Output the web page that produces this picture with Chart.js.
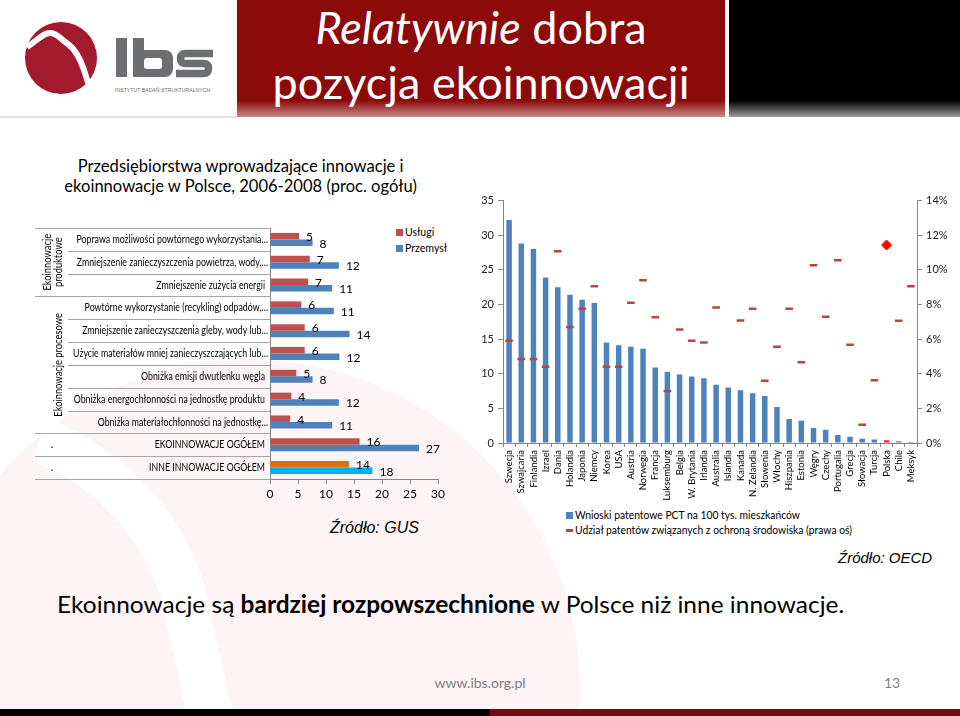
<!DOCTYPE html>
<html><head><meta charset="utf-8">
<script src="https://cdn.jsdelivr.net/npm/chart.js@4.4.0/dist/chart.umd.min.js"></script>
<style>
body{margin:0;width:960px;height:716px;position:relative;overflow:hidden;background:#fff;font-family:Lato,"Open Sans",sans-serif;color:#000;}
.abs{position:absolute;white-space:nowrap;}
.cond{display:inline-block;transform-origin:left center;}
canvas{position:absolute;}
</style></head><body>

<script>
// ---------- DATA ----------
const ecoCategories = [
  'Poprawa możliwości powtórnego wykorzystania…',
  'Zmniejszenie zanieczyszczenia powietrza, wody,…',
  'Zmniejszenie zużycia energii',
  'Powtórne wykorzystanie (recykling) odpadów,…',
  'Zmniejszenie zanieczyszczenia gleby, wody lub…',
  'Użycie materiałów mniej zanieczyszczających lub…',
  'Obniżka emisji dwutlenku węgla',
  'Obniżka energochłonności na jednostkę produktu',
  'Obniżka materiałochłonności na jednostkę…',
  'EKOINNOWACJE OGÓŁEM',
  'INNE INNOWACJE OGÓŁEM'
];
const ecoGroups = ['Ekoinnowacje produktowe', 'Ekoinnowacje procesowe', '.', '.'];
const ecoGroupSizes = [3, 6, 1, 1];
const uslugi   = [5.2, 7.1, 6.8, 5.6, 6.2, 6.2, 4.7, 3.8, 3.6, 16.0, 14.1];
const przemysl = [7.6, 12.3, 11.1, 11.4, 14.2, 12.4, 7.6, 12.3, 11.1, 26.6, 18.3];
const ecoSeriesNames = ['Usługi', 'Przemysł'];
const ecoTicks = [0, 5, 10, 15, 20, 25, 30];

const countries = ['Szwecja','Szwajcaria','Finlandia','Izrael','Dania','Holandia','Japonia','Niemcy','Korea','USA','Austria','Norwegia','Francja','Luksemburg','Belgia','W. Brytania','Irlandia','Australia','Islandia','Kanada','N. Zelandia','Słowenia','Włochy','Hiszpania','Estonia','Węgry','Czechy','Portugalia','Grecja','Słowacja','Turcja','Polska','Chile','Meksyk'];
const pctApplications = [32.2, 28.8, 28.0, 23.9, 22.5, 21.4, 20.7, 20.2, 14.5, 14.1, 13.9, 13.6, 10.9, 10.3, 9.9, 9.6, 9.35, 8.4, 8.0, 7.6, 7.2, 6.8, 5.2, 3.45, 3.2, 2.15, 1.9, 1.15, 0.9, 0.6, 0.5, 0.4, 0.25, 0.15];
const envShare = [5.9, 4.85, 4.85, 4.4, 11.07, 6.7, 7.75, 9.05, 4.4, 4.4, 8.1, 9.4, 7.27, 3.0, 6.56, 5.9, 5.8, 7.83, null, 7.08, 7.75, 3.6, 5.56, 7.75, 4.66, 10.27, 7.29, 10.55, 5.68, 1.05, 3.63, 11.43, 7.06, 9.05];
const highlightCountry = 'Polska';
const patSeriesNames = ['Wnioski patentowe PCT na 100 tys. mieszkańców', 'Udział patentów związanych z ochroną środowiska (prawa oś)'];
const leftAxisTicks = [0, 5, 10, 15, 20, 25, 30, 35];
const rightAxisTicks = ['0%', '2%', '4%', '6%', '8%', '10%', '12%', '14%'];
</script>

<!-- background watermark -->
<svg class="abs" style="left:0;top:0" width="960" height="716">
  <circle cx="250" cy="690" r="330" fill="#FDF4F5"/>
  <path d="M40,440 C120,470 170,540 185,600 C195,650 205,690 210,716" stroke="#fff" stroke-width="45" fill="none"/>
  <rect x="0" y="709" width="490" height="7" fill="#000"/>
  <rect x="490" y="709" width="470" height="7" fill="#7A0A0A"/>
</svg>

<!-- header -->
<div class="abs" style="left:237px;top:0;width:488px;height:117px;background:linear-gradient(to bottom,#8C0A0A 0%,#8C0A0A 86%,#C98A8A 100%)"></div>
<div class="abs" style="left:729px;top:0;width:231px;height:117px;background:linear-gradient(to bottom,#000 0%,#000 86%,#9a9a9a 100%)"></div>
<div class="abs" style="left:237px;top:1px;width:488px;text-align:center;color:#fff;font-size:45px;line-height:52px"><i>Relatywnie</i> dobra</div>
<div class="abs" style="left:237px;top:56px;width:488px;text-align:center;color:#fff;font-size:45px;line-height:52px">pozycja ekoinnowacji</div>
<div class="abs" style="left:0;top:116px;width:237px;height:2px;background:#e2e2e2"></div>

<svg class="abs" style="left:0;top:0" width="237" height="115">
  <circle cx="61" cy="58" r="36" fill="#A3192E"/>
  <path d="M27,47 C38,40 44,32 51,33 C58,34 62,40 68,44 C76,50 80,58 84,70 C87,80 90,88 92,94" stroke="#fff" stroke-width="6" fill="none"/>
  <rect x="116" y="38" width="11" height="39" fill="#6D6E71"/>
  <rect x="133" y="38" width="11" height="39" fill="#6D6E71"/>
  <rect x="133" y="50" width="40" height="27" rx="8" fill="#6D6E71"/>
  <rect x="144" y="58" width="18" height="11" rx="3" fill="#fff"/>
  <path d="M213,53.5 L186,53.5 Q180.5,53.5 180.5,58.5 Q180.5,63.5 186,63.5 L203,63.5 Q208.5,63.5 208.5,68.5 Q208.5,73.5 203,73.5 L176,73.5" stroke="#6D6E71" stroke-width="7.5" fill="none"/>
  <text x="115" y="92" font-size="5.2" fill="#6D6E71" font-family="Liberation Sans">INSTYTUT BADAŃ STRUKTURALNYCH</text>
</svg>

<!-- subtitle -->
<div class="abs" style="left:0;top:155px;width:482px;text-align:center;font-size:18px;line-height:20px"><span class="cond" style="transform:scaleX(0.92);transform-origin:center">Przedsiębiorstwa wprowadzające innowacje i<br>ekoinnowacje w Polsce, 2006-2008 (proc. ogółu)</span></div>

<!-- left legend -->
<div class="abs" style="left:396px;top:229px;width:7px;height:7px;background:#C0504D"></div>
<div class="abs" style="left:405px;top:224px;font-size:12px;line-height:16px"><span class="cond" id="lg1" style="transform:scaleX(0.88)"></span></div>
<div class="abs" style="left:396px;top:245px;width:7px;height:7px;background:#4F81BD"></div>
<div class="abs" style="left:405px;top:240px;font-size:12px;line-height:16px"><span class="cond" id="lg2" style="transform:scaleX(0.88)"></span></div>

<canvas id="eco" width="430" height="290" style="left:30px;top:215px"></canvas>
<canvas id="pat" width="490" height="310" style="left:470px;top:190px"></canvas>

<!-- right legend -->
<div class="abs" style="left:566px;top:512px;width:7px;height:7px;background:#4F81BD"></div>
<div class="abs" style="left:575px;top:507px;font-size:12px;line-height:16px"><span class="cond" id="lg3" style="transform:scaleX(0.86)"></span></div>
<div class="abs" style="left:566px;top:529px;width:7px;height:2.5px;background:#B8453F"></div>
<div class="abs" style="left:575px;top:522px;font-size:12px;line-height:16px"><span class="cond" id="lg4" style="transform:scaleX(0.86)"></span></div>

<div class="abs" style="left:330px;top:519px;font-size:16px;font-style:italic;font-family:'Liberation Sans',Arial">Źródło: GUS</div>
<div class="abs" style="left:838px;top:549px;font-size:15px;font-style:italic;font-family:'Liberation Sans',Arial">Źródło: OECD</div>

<div class="abs" style="left:57px;top:589px;font-size:24px;line-height:30px"><span class="cond" style="transform:scaleX(1.02)">Ekoinnowacje są <b>bardziej rozpowszechnione</b> w Polsce niż inne innowacje.</span></div>
<div class="abs" style="left:380px;top:674px;width:200px;text-align:center;font-size:14px;color:#7F7F7F">www.ibs.org.pl</div>
<div class="abs" style="left:884px;top:674px;font-size:14px;color:#7F7F7F">13</div>

<script>
document.getElementById('lg1').textContent = ecoSeriesNames[0];
document.getElementById('lg2').textContent = ecoSeriesNames[1];
document.getElementById('lg3').textContent = patSeriesNames[0];
document.getElementById('lg4').textContent = patSeriesNames[1];

Chart.defaults.font.family = 'Lato, "Open Sans", sans-serif';
Chart.defaults.color = '#000';

const GRID = '#A6A6A6';
const condText = (ctx, t, x, y, f) => ctx.fillText(t, x, y, ctx.measureText(t).width * f);

const leftAxisPlugin = {
  id: 'leftAxis',
  afterDraw(chart) {
    const ctx = chart.ctx, ys = chart.scales.y, area = chart.chartArea;
    const n = ecoCategories.length;
    const step = ys.getPixelForValue(1) - ys.getPixelForValue(0);
    const bound = k => ys.getPixelForValue(k) - step / 2;
    const full = [0]; let acc = 0;
    ecoGroupSizes.forEach(s => { acc += s; full.push(acc); });
    const fullLeft = 5, innerLeft = 38;
    ctx.save();
    ctx.strokeStyle = GRID; ctx.lineWidth = 1;
    for (let k = 0; k <= n; k++) {
      const y = Math.round(bound(k)) + 0.5;
      ctx.beginPath();
      ctx.moveTo(full.includes(k) ? fullLeft : innerLeft, y);
      ctx.lineTo(area.left, y);
      ctx.stroke();
    }
    ctx.fillStyle = '#000';
    ctx.font = '11px Lato';
    ctx.textAlign = 'right'; ctx.textBaseline = 'middle';
    ecoCategories.forEach((c, i) => {
      const trunc = c.endsWith('…');
      condText(ctx, c, area.left - (trunc ? 2 : 5), ys.getPixelForValue(i), 0.8);
    });
    // group labels
    ctx.textAlign = 'center';
    let start = 0;
    ecoGroups.forEach((g, gi) => {
      const y0 = bound(start), y1 = bound(start + ecoGroupSizes[gi]);
      const cy = (y0 + y1) / 2;
      const w = ctx.measureText(g).width * 0.8;
      const lines = (w > (y1 - y0) - 6) ? g.split(' ') : [g];
      if (g === '.') {
        ctx.fillText(g, 22, cy);
      } else {
        lines.forEach((ln, j) => {
          ctx.save();
          ctx.translate(28 - (lines.length - 1) * 11 + j * 11, cy);
          ctx.rotate(-Math.PI / 2);
          condText(ctx, ln, 0, 0, 0.85);
          ctx.restore();
        });
      }
      start += ecoGroupSizes[gi];
    });
    ctx.restore();
  }
};

const barLabelPlugin = {
  id: 'barLabels',
  afterDatasetsDraw(chart) {
    const ctx = chart.ctx;
    ctx.save();
    ctx.fillStyle = '#000';
    ctx.font = '12px Lato';
    ctx.textAlign = 'left'; ctx.textBaseline = 'middle';
    chart.data.datasets.forEach((ds, di) => {
      chart.getDatasetMeta(di).data.forEach((el, i) => {
        ctx.fillText(String(Math.round(ds.data[i])), el.x + 7, el.y + 1);
      });
    });
    ctx.restore();
  }
};

const last = ecoCategories.length - 1;
new Chart(document.getElementById('eco'), {
  type: 'bar',
  data: {
    labels: ecoCategories,
    datasets: [
      { label: ecoSeriesNames[0], data: uslugi, backgroundColor: ecoCategories.map((c, i) => i === last ? '#E46C0A' : '#C0504D') },
      { label: ecoSeriesNames[1], data: przemysl, backgroundColor: ecoCategories.map((c, i) => i === last ? '#00B0F0' : '#4F81BD') }
    ]
  },
  options: {
    indexAxis: 'y', responsive: false, animation: false,
    layout: { padding: { top: 13, right: 22, left: 0, bottom: 0 } },
    datasets: { bar: { categoryPercentage: 0.57, barPercentage: 1 } },
    scales: {
      x: {
        min: ecoTicks[0], max: ecoTicks[ecoTicks.length - 1],
        afterBuildTicks(s) { s.ticks = ecoTicks.map(v => ({ value: v })); },
        ticks: { font: { size: 12 }, color: '#000', padding: 3 },
        grid: { drawOnChartArea: false, tickLength: 5, color: '#868686' },
        border: { color: '#868686' },
        afterFit(s) { s.height = 26; }
      },
      y: {
        ticks: { display: false },
        grid: { drawOnChartArea: false, drawTicks: false, color: '#868686' },
        border: { color: '#868686' },
        afterFit(s) { s.width = 240; }
      }
    },
    plugins: { legend: { display: false }, tooltip: { enabled: false } }
  },
  plugins: [leftAxisPlugin, barLabelPlugin]
});

const isHi = c => c === highlightCountry;
new Chart(document.getElementById('pat'), {
  type: 'bar',
  data: {
    labels: countries,
    datasets: [
      { type: 'bar', label: patSeriesNames[0], data: pctApplications, yAxisID: 'y', order: 2,
        backgroundColor: countries.map(c => isHi(c) ? '#E8262A' : '#4F81BD'),
        barPercentage: 0.45, categoryPercentage: 1 },
      { type: 'line', label: patSeriesNames[1], data: envShare, yAxisID: 'y1', order: 1, showLine: false,
        pointStyle: countries.map(c => isHi(c) ? 'rectRot' : 'line'),
        pointRadius: countries.map(c => isHi(c) ? 5 : 3.8),
        pointBorderColor: countries.map(c => isHi(c) ? '#FF0000' : '#B8453F'),
        pointBackgroundColor: countries.map(c => isHi(c) ? '#FF0000' : '#B8453F'),
        pointBorderWidth: countries.map(c => isHi(c) ? 1 : 2.5) }
    ]
  },
  options: {
    responsive: false, animation: false,
    layout: { padding: { top: 10, left: 0, right: 0, bottom: 0 } },
    scales: {
      x: {
        grid: { drawOnChartArea: false, tickLength: 4, color: '#868686', offset: true },
        border: { color: '#868686' },
        ticks: { autoSkip: false, maxRotation: 90, minRotation: 90, font: { size: 9.5 }, color: '#000', padding: 3 },
        afterFit(s) { s.height = 57; }
      },
      y: {
        position: 'left', min: 0, max: leftAxisTicks[leftAxisTicks.length - 1],
        afterBuildTicks(s) { s.ticks = leftAxisTicks.map(v => ({ value: v })); },
        ticks: { font: { size: 11 }, color: '#222', padding: 4 },
        grid: { drawOnChartArea: false, tickLength: 5, color: '#868686' },
        border: { color: '#868686' },
        afterFit(s) { s.width = 33; }
      },
      y1: {
        position: 'right', min: 0, max: 14,
        afterBuildTicks(s) { s.ticks = rightAxisTicks.map(t => ({ value: parseFloat(t) })); },
        ticks: { font: { size: 11 }, color: '#222', padding: 4, callback: (v, i) => rightAxisTicks[i] },
        grid: { drawOnChartArea: false, tickLength: 5, color: '#868686' },
        border: { color: '#868686' },
        afterFit(s) { s.width = 43; }
      }
    },
    plugins: { legend: { display: false }, tooltip: { enabled: false } }
  }
});
</script>
</body></html>
